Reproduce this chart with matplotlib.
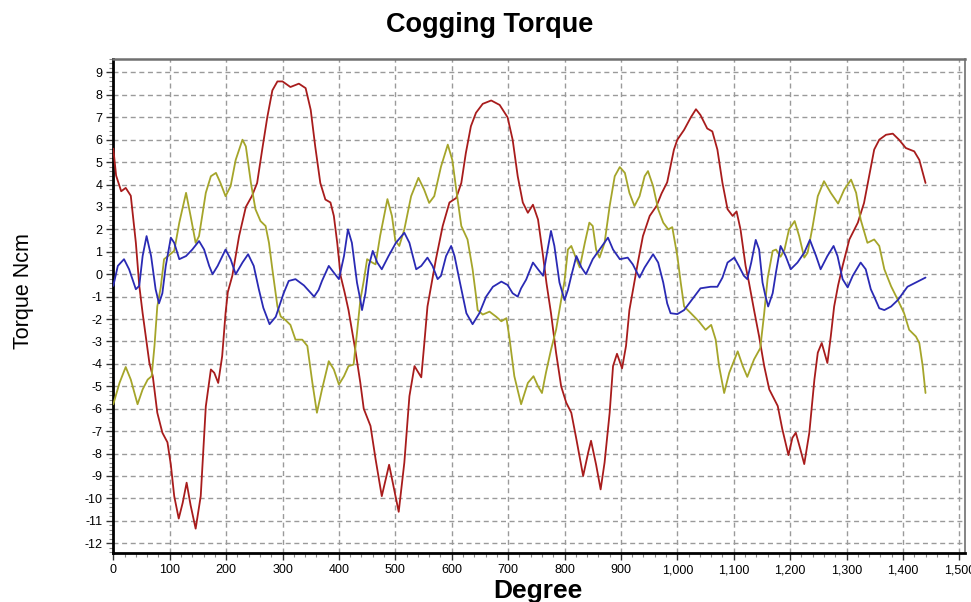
import matplotlib
matplotlib.use("Agg")
import matplotlib.pyplot as plt
from matplotlib.ticker import MultipleLocator, FuncFormatter

plt.rcParams['font.family'] = ['Liberation Sans', 'DejaVu Sans']

# ---- data: cogging torque (Ncm) vs rotor angle (degree) ----
red_deg = [0, 5, 14, 22, 31, 40, 46, 52, 64, 70, 78, 87, 96, 102, 108, 116, 123, 130, 137, 146,
           155, 164, 173, 179, 186, 193, 199, 203, 211, 223, 235, 246, 255, 264, 273, 282, 291, 300,
           314, 329, 341, 350, 358, 367, 376, 385, 391, 397, 403, 410, 417, 429, 438, 444, 456, 465,
           476, 489, 506, 516, 525, 534, 546, 551, 557, 563, 572, 584, 596, 608, 617, 625, 634, 643,
           655, 670, 685, 699, 708, 717, 726, 735, 744, 753, 762, 768, 776, 785, 794, 803, 812, 821,
           833, 842, 847, 856, 864, 871, 880, 886, 893, 902, 909, 915, 922, 930, 939, 951, 963, 972,
           982, 994, 1000, 1012, 1024, 1033, 1041, 1053, 1062, 1071, 1080, 1089, 1098, 1105, 1112,
           1121, 1127, 1136, 1145, 1154, 1163, 1178, 1186, 1197, 1204, 1210, 1218, 1225, 1234, 1243,
           1249, 1256, 1266, 1272, 1278, 1285, 1293, 1305, 1320, 1331, 1340, 1349, 1358, 1370, 1382,
           1393, 1405, 1420, 1429, 1440]
red_val = [5.6, 4.4, 3.7, 3.85, 3.5, 1.4, -0.5, -1.74, -3.96, -4.55, -6.18, -7.07, -7.5, -8.5, -9.9,
           -10.9, -10.2, -9.3, -10.3, -11.35, -9.9, -5.9, -4.25, -4.4, -4.85, -3.66, -1.74, -0.8, -0.07,
           1.7, 3.0, 3.5, 4.07, 5.56, 7.0, 8.2, 8.6, 8.6, 8.35, 8.5, 8.3, 7.33, 5.7, 4.07, 3.33, 3.2,
           2.6, 1.4, -0.07, -0.8, -1.6, -3.37, -4.85, -6.0, -6.77, -8.25, -9.9, -8.5, -10.6, -8.4,
           -5.44, -4.1, -4.6, -3.2, -1.44, -0.6, 0.67, 2.15, 3.2, 3.4, 4.07, 5.4, 6.6, 7.2, 7.6, 7.75,
           7.55, 7.0, 6.0, 4.37, 3.2, 2.74, 3.1, 2.44, 0.8, -0.4, -1.74, -3.5, -5.0, -5.73, -6.18,
           -7.36, -9.0, -7.95, -7.43, -8.5, -9.6, -8.4, -6.18, -4.1, -3.55, -4.2, -3.2, -1.6, -0.6,
           0.52, 1.7, 2.6, 3.04, 3.6, 4.1, 5.56, 6.0, 6.44, 7.0, 7.36, 7.1, 6.5, 6.37, 5.56, 4.07,
           2.9, 2.6, 2.8, 2.0, 0.37, -0.37, -1.6, -2.78, -4.1, -5.14, -5.88, -6.9, -8.07, -7.3, -7.07,
           -7.8, -8.47, -7.07, -4.7, -3.5, -3.07, -3.96, -2.78, -1.44, -0.5, 0.37, 1.55, 2.3, 3.18,
           4.37, 5.56, 6.0, 6.22, 6.27, 6.0, 5.63, 5.48, 5.1, 4.07]

olive_deg = [0, 11, 22, 31, 43, 52, 61, 68, 73, 78, 84, 90, 99, 108, 117, 129, 137, 146, 152, 164,
             173, 182, 190, 199, 208, 217, 229, 235, 244, 252, 261, 270, 276, 282, 287, 291, 297, 305,
             314, 323, 335, 344, 353, 361, 370, 382, 391, 400, 409, 417, 426, 432, 438, 444, 450, 459,
             465, 473, 486, 494, 500, 507, 516, 528, 541, 551, 560, 569, 581, 593, 601, 608, 617, 628,
             637, 643, 646, 655, 667, 679, 688, 697, 702, 711, 723, 735, 745, 753, 760, 767, 776, 785,
             794, 800, 806, 812, 821, 827, 836, 844, 850, 856, 862, 871, 880, 889, 898, 907, 915, 924,
             933, 942, 948, 957, 966, 975, 984, 991, 1000, 1006, 1012, 1024, 1038, 1050, 1060, 1068,
             1074, 1083, 1092, 1107, 1116, 1124, 1136, 1147, 1154, 1160, 1169, 1175, 1183, 1190, 1198,
             1208, 1216, 1225, 1231, 1240, 1249, 1260, 1272, 1285, 1296, 1308, 1317, 1325, 1337, 1349,
             1358, 1367, 1379, 1391, 1402, 1411, 1423, 1429, 1435, 1440]
olive_val = [-5.8, -4.85, -4.14, -4.7, -5.8, -5.14, -4.7, -4.55, -3.2, -1.44, -0.6, 0.67, 0.85, 1.04,
             2.3, 3.63, 2.6, 1.4, 1.7, 3.63, 4.37, 4.52, 4.07, 3.48, 3.93, 5.1, 6.0, 5.7, 4.07, 2.9,
             2.37, 2.15, 1.4, 0.22, -0.7, -1.44, -1.89, -2.04, -2.26, -2.92, -2.92, -3.2, -4.85, -6.18,
             -5.14, -3.88, -4.25, -4.92, -4.55, -4.1, -4.03, -2.63, -1.15, -0.3, 0.67, 0.52, 0.44, 1.7,
             3.35, 2.6, 1.5, 1.26, 2.0, 3.48, 4.3, 3.78, 3.18, 3.48, 4.8, 5.78, 5.1, 3.78, 2.15, 1.55,
             0.22, -0.96, -1.6, -1.8, -1.67, -1.9, -2.1, -1.96, -2.78, -4.55, -5.8, -4.85, -4.55, -5.0,
             -5.3, -4.4, -3.37, -2.48, -1.15, -0.3, 1.1, 1.26, 0.67, 0.3, 1.4, 2.3, 2.15, 1.1, 0.74,
             1.4, 3.04, 4.37, 4.78, 4.52, 3.63, 3.04, 3.48, 4.37, 4.6, 3.93, 2.9, 2.3, 2.0, 2.1, 0.81,
             -0.37, -1.44, -1.74, -2.1, -2.48, -2.26, -2.92, -4.1, -5.3, -4.4, -3.44, -4.1, -4.58,
             -3.8, -3.3, -1.74, -0.2, 1.04, 1.1, 0.78, 1.1, 2.0, 2.37, 1.7, 0.74, 0.96, 2.15, 3.48,
             4.15, 3.63, 3.15, 3.78, 4.22, 3.63, 2.44, 1.4, 1.55, 1.26, 0.22, -0.54, -1.15, -1.74,
             -2.48, -2.78, -3.07, -4.1, -5.3]

blue_deg = [0, 8, 19, 28, 40, 46, 52, 59, 67, 75, 81, 87, 93, 102, 108, 117, 129, 140, 152, 161,
            170, 176, 185, 199, 208, 217, 229, 239, 249, 258, 266, 277, 288, 302, 311, 323, 338, 356,
            364, 370, 382, 391, 400, 409, 416, 423, 432, 438, 441, 447, 453, 460, 468, 476, 488, 501,
            516, 525, 537, 546, 557, 566, 575, 581, 590, 599, 605, 614, 626, 637, 649, 661, 673, 688,
            699, 708, 717, 723, 732, 744, 753, 762, 770, 776, 782, 791, 800, 806, 812, 821, 830, 838,
            850, 862, 877, 886, 898, 912, 921, 933, 942, 957, 966, 975, 982, 988, 1000, 1012, 1030,
            1041, 1059, 1071, 1080, 1089, 1101, 1109, 1118, 1124, 1131, 1139, 1145, 1151, 1156, 1161,
            1169, 1175, 1183, 1192, 1201, 1213, 1225, 1235, 1246, 1254, 1266, 1277, 1284, 1293, 1302,
            1311, 1325, 1334, 1343, 1349, 1358, 1367, 1379, 1391, 1408, 1426, 1440]
blue_val = [-0.52, 0.37, 0.67, 0.22, -0.67, -0.52, 0.81, 1.7, 0.81, -0.67, -1.3, -0.85, 0.37, 1.63,
            1.4, 0.67, 0.81, 1.1, 1.48, 1.1, 0.37, 0.0, 0.37, 1.1, 0.67, 0.0, 0.52, 0.89, 0.37, -0.67,
            -1.5, -2.23, -1.9, -0.85, -0.3, -0.22, -0.5, -1.0, -0.7, -0.3, 0.37, 0.07, -0.22, 0.81,
            2.0, 1.4, -0.37, -1.15, -1.6, -0.85, 0.37, 1.04, 0.52, 0.22, 0.81, 1.4, 1.85, 1.4, 0.22,
            0.37, 0.74, 0.37, -0.22, -0.07, 0.81, 1.26, 0.81, -0.3, -1.74, -2.23, -1.74, -1.0, -0.56,
            -0.33, -0.48, -0.85, -1.0, -0.63, -0.24, 0.52, 0.22, -0.07, 1.1, 1.93, 1.26, -0.37, -1.15,
            -0.7, -0.07, 0.81, 0.3, 0.0, 0.67, 1.1, 1.63, 1.1, 0.67, 0.74, 0.44, -0.15, 0.3, 0.89,
            0.52, -0.37, -1.3, -1.74, -1.78, -1.6, -1.0, -0.63, -0.56, -0.56, -0.15, 0.52, 0.74, 0.37,
            -0.07, -0.22, 0.52, 1.53, 1.1, -0.37, -0.95, -1.44, -0.85, 0.1, 1.26, 0.81, 0.22, 0.52,
            0.96, 1.53, 0.81, 0.22, 0.81, 1.26, 0.81, -0.22, -0.59, -0.07, 0.52, 0.22, -0.67, -1.0,
            -1.52, -1.6, -1.44, -1.15, -0.56, -0.33, -0.15]

x_ticks = list(range(0, 1501, 100))
y_ticks = list(range(-12, 10))

RED = '#a81c1c'
OLIVE = '#a5a52a'
BLUE = '#2a2ab4'

W, H = 971, 602
fig = plt.figure(figsize=(W / 100, H / 100), dpi=100)
ax = fig.add_axes([113.3 / W, 1 - 553.3 / H, (965 - 113.3) / W, (553.3 - 59) / H])

line_style = dict(lw=1.3, solid_joinstyle='round', solid_capstyle='round')
ax.plot(red_deg, red_val, color=RED, zorder=3, **line_style)
ax.plot(olive_deg, olive_val, color=OLIVE, zorder=3, **line_style)
ax.plot(blue_deg, blue_val, color=BLUE, zorder=4, **line_style)

ax.set_xlim(0, 1510)
ax.set_ylim(-12.45, 9.6)

ax.set_xticks(x_ticks)
ax.set_yticks(y_ticks)
ax.xaxis.set_minor_locator(MultipleLocator(20))
ax.yaxis.set_minor_locator(MultipleLocator(0.2))
ax.xaxis.set_major_formatter(FuncFormatter(lambda v, p: f"{int(v):,}"))
ax.yaxis.set_major_formatter(FuncFormatter(lambda v, p: f"{int(v)}"))

ax.grid(True, which='major', color='#9a9a9a', lw=1.0, linestyle=(0, (3.6, 2.6)), zorder=1)
ax.tick_params(which='major', direction='out', length=5, width=1, color='#333333',
               labelsize=9, pad=3)
ax.tick_params(which='minor', direction='out', length=3, width=0.8, color='#888888')
ax.tick_params(axis='x', which='both', top=False)
ax.tick_params(axis='y', which='both', right=False)

for s in ('left', 'bottom'):
    ax.spines[s].set_color('black')
    ax.spines[s].set_linewidth(2.0)
ax.spines['top'].set_color('#707070')
ax.spines['top'].set_linewidth(1.8)
ax.spines['right'].set_color('#707070')
ax.spines['right'].set_linewidth(1.2)

fig.text(489.5 / W, 1 - 31.7 / H, 'Cogging Torque', ha='center', va='baseline',
         fontsize=19.5, fontweight='bold')
fig.text(538 / W, 1 - 598 / H, 'Degree', ha='center', va='baseline',
         fontsize=19, fontweight='bold')
fig.text(23 / W, 1 - 291 / H, 'Torque Ncm', ha='center', va='center', rotation=90,
         fontsize=15.5)

fig.savefig('out.png', dpi=100)
